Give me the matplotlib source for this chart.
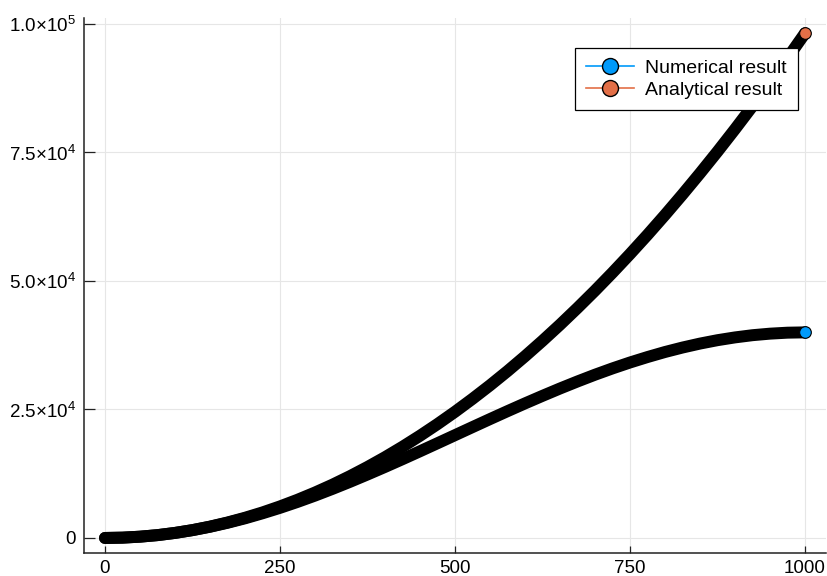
import matplotlib
matplotlib.use("Agg")
import matplotlib.pyplot as plt
from matplotlib.lines import Line2D
from matplotlib.ticker import FixedLocator, FixedFormatter

plt.rcParams['font.family'] = ['Liberation Sans', 'DejaVu Sans']
plt.rcParams['mathtext.fontset'] = 'custom'
plt.rcParams['mathtext.rm'] = 'Liberation Sans'
plt.rcParams['mathtext.it'] = 'Liberation Sans:italic'

# Data
x_vals = [0, 25, 50, 75, 100, 125, 150, 175, 200, 225, 250, 275, 300, 325, 350,
          375, 400, 425, 450, 475, 500, 525, 550, 575, 600, 625, 650, 675, 700,
          725, 750, 775, 800, 825, 850, 875, 900, 925, 950, 975, 1000]
numerical = [0, 60, 250, 550, 980, 1520, 2180, 2950, 3820, 4800, 5860, 7010, 8240,
             9550, 10920, 12350, 13820, 15330, 16870, 18430, 20000, 21570, 23130,
             24670, 26180, 27650, 29080, 30450, 31760, 32990, 34140, 35200, 36180,
             37050, 37820, 38480, 39020, 39450, 39750, 39940, 40000]
analytical = [0, 60, 250, 550, 980, 1530, 2210, 3010, 3930, 4970, 6140, 7430, 8840,
              10370, 12030, 13810, 15710, 17740, 19890, 22160, 24550, 27070, 29700,
              32460, 35350, 38360, 41490, 44750, 48120, 51620, 55240, 58980, 62850,
              66840, 70950, 75180, 79540, 84020, 88630, 93360, 98200]
series_names = ["Numerical result", "Analytical result"]
series_colors = ["#009AFA", "#E36F47"]

x_ticks = [0, 250, 500, 750, 1000]
x_tick_labels = ["0", "250", "500", "750", "1000"]
y_ticks = [0, 25000, 50000, 75000, 100000]
y_tick_labels = ["0", "2.5×10$^{4}$", "5.0×10$^{4}$", "7.5×10$^{4}$", "1.0×10$^{5}$"]

fig = plt.figure(figsize=(8.27, 5.76), dpi=100)
ax = fig.add_axes([84 / 827, 22.9 / 576, 742 / 827, 535 / 576])

handles = []
for ys, name, col in zip([numerical, analytical], series_names, series_colors):
    ax.plot(x_vals, ys, color=col, lw=1)
    ax.plot(x_vals, ys, color='black', lw=8.6, solid_capstyle='round',
            solid_joinstyle='round')
    ax.plot(x_vals[-1:], ys[-1:], 'o', mfc=col, mec='black', ms=8.4, mew=0.8)
    handles.append(Line2D([], [], color=col, lw=1.2, marker='o', mfc=col,
                          mec='black', ms=11.5, mew=1.0))

ax.margins(x=0.03, y=0.03)

ax.xaxis.set_major_locator(FixedLocator(x_ticks))
ax.xaxis.set_major_formatter(FixedFormatter(x_tick_labels))
ax.yaxis.set_major_locator(FixedLocator(y_ticks))
ax.yaxis.set_major_formatter(FixedFormatter(y_tick_labels))

ax.grid(True, color='#e6e6e6', lw=0.8)
ax.set_axisbelow(True)
for s in ['top', 'right']:
    ax.spines[s].set_visible(False)
for s in ['left', 'bottom']:
    ax.spines[s].set_color('#222222')
    ax.spines[s].set_linewidth(1.1)

ax.tick_params(axis='x', direction='in', length=5, width=0.9, color='#222222',
               labelsize=13.5, pad=5)
ax.tick_params(axis='y', direction='in', length=8, width=0.9, color='#222222',
               labelsize=13.5, pad=6)

leg = ax.legend(handles, series_names, loc='upper right',
                bbox_to_anchor=((798 - 84) / 742, (553.1 - 48) / 535),
                borderaxespad=0, fontsize=14, frameon=True, fancybox=False,
                edgecolor='black', handlelength=2.45, handletextpad=0.55,
                labelspacing=0.2, borderpad=0.6, framealpha=1)
leg.get_frame().set_linewidth(0.9)

fig.savefig("out.png", dpi=100)
